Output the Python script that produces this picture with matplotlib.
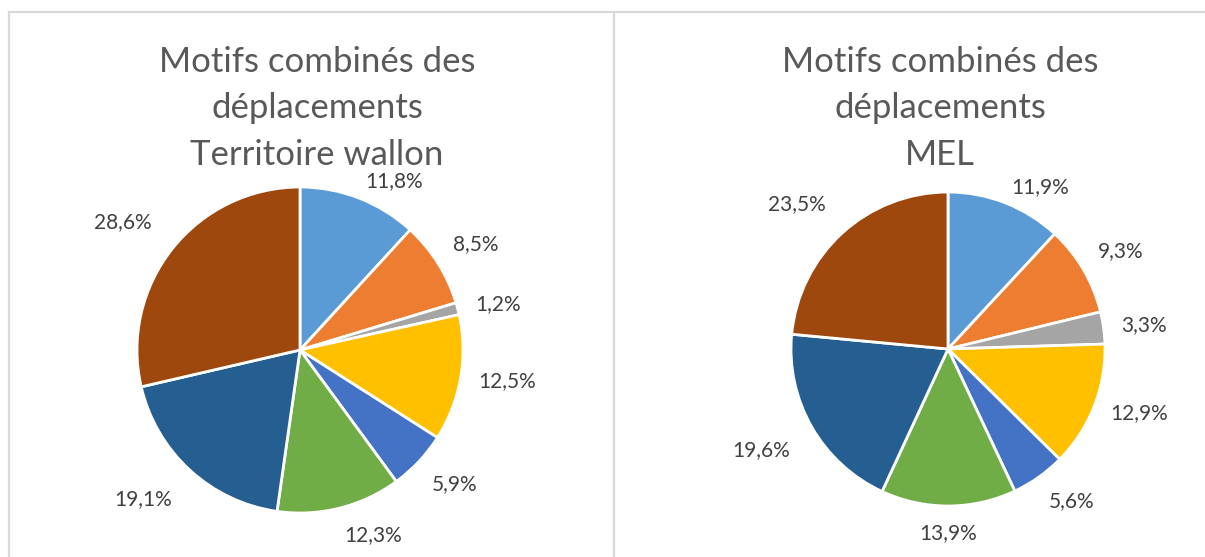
import numpy as np
import matplotlib
matplotlib.use('Agg')
from matplotlib import pyplot as plt
from matplotlib.lines import Line2D

# parts des motifs, dans l'ordre des parts (sens horaire depuis midi)
wallon_vals = [11.8, 8.5, 1.2, 12.5, 5.9, 12.3, 19.1, 28.6]
mel_vals = [11.9, 9.3, 3.3, 12.9, 5.6, 13.9, 19.6, 23.5]
wallon_title = 'Motifs combinés des\ndéplacements\nTerritoire wallon'
mel_title = 'Motifs combinés des\ndéplacements\nMEL'
colors = ['#5B9BD5', '#ED7D31', '#A5A5A5', '#FFC000',
          '#4472C4', '#70AD47', '#255E91', '#9E480E']

W, H = 1205, 557
fig = plt.figure(figsize=(W / 100, H / 100), dpi=100)
plt.rcParams['font.family'] = ['Lato', 'DejaVu Sans']

# cadres gris des deux graphiques
border = '#D9D9D9'
fig.add_artist(Line2D([9 / W, 1], [1 - 12 / H] * 2, color=border, lw=1.6))
fig.add_artist(Line2D([9 / W] * 2, [0, 1 - 12 / H], color=border, lw=1.6))
fig.add_artist(Line2D([614 / W] * 2, [0, 1 - 12 / H], color=border, lw=1.6))


def draw_pie(vals, title, cx, cy, r, tx):
    lim = 1.7
    ax = fig.add_axes([(cx - lim * r) / W, (H - cy - lim * r) / H,
                       2 * lim * r / W, 2 * lim * r / H])
    wedges, _ = ax.pie(vals, colors=colors, startangle=90, counterclock=False,
                       wedgeprops=dict(edgecolor='white', linewidth=2))
    for w, v in zip(wedges, vals):
        ang = np.deg2rad((w.theta1 + w.theta2) / 2)
        c, s = np.cos(ang), np.sin(ang)
        d = 1.11 if c > 0 else 1.16
        ha = 'left' if c > 0.2 else ('right' if c < -0.2 else 'center')
        if s > 0.85 or abs(s) < 0.4:
            va = 'center'
        else:
            va = 'bottom' if s > 0 else 'top'
        ax.text(d * c, d * s, f'{v:.1f}%'.replace('.', ','), ha=ha, va=va,
                fontsize=15, color='#404040')
    ax.set_xlim(-lim, lim)
    ax.set_ylim(-lim, lim)
    ax.set_aspect('equal')
    ax.axis('off')
    fig.text(tx / W, 1 - 46 / H, title, ha='center', va='top',
             fontsize=25, color='#595959', linespacing=1.55)


draw_pie(wallon_vals, wallon_title, 300, 350, 163, 317)
draw_pie(mel_vals, mel_title, 948, 349, 157, 940)

fig.savefig('out.png', dpi=100, facecolor='white')
